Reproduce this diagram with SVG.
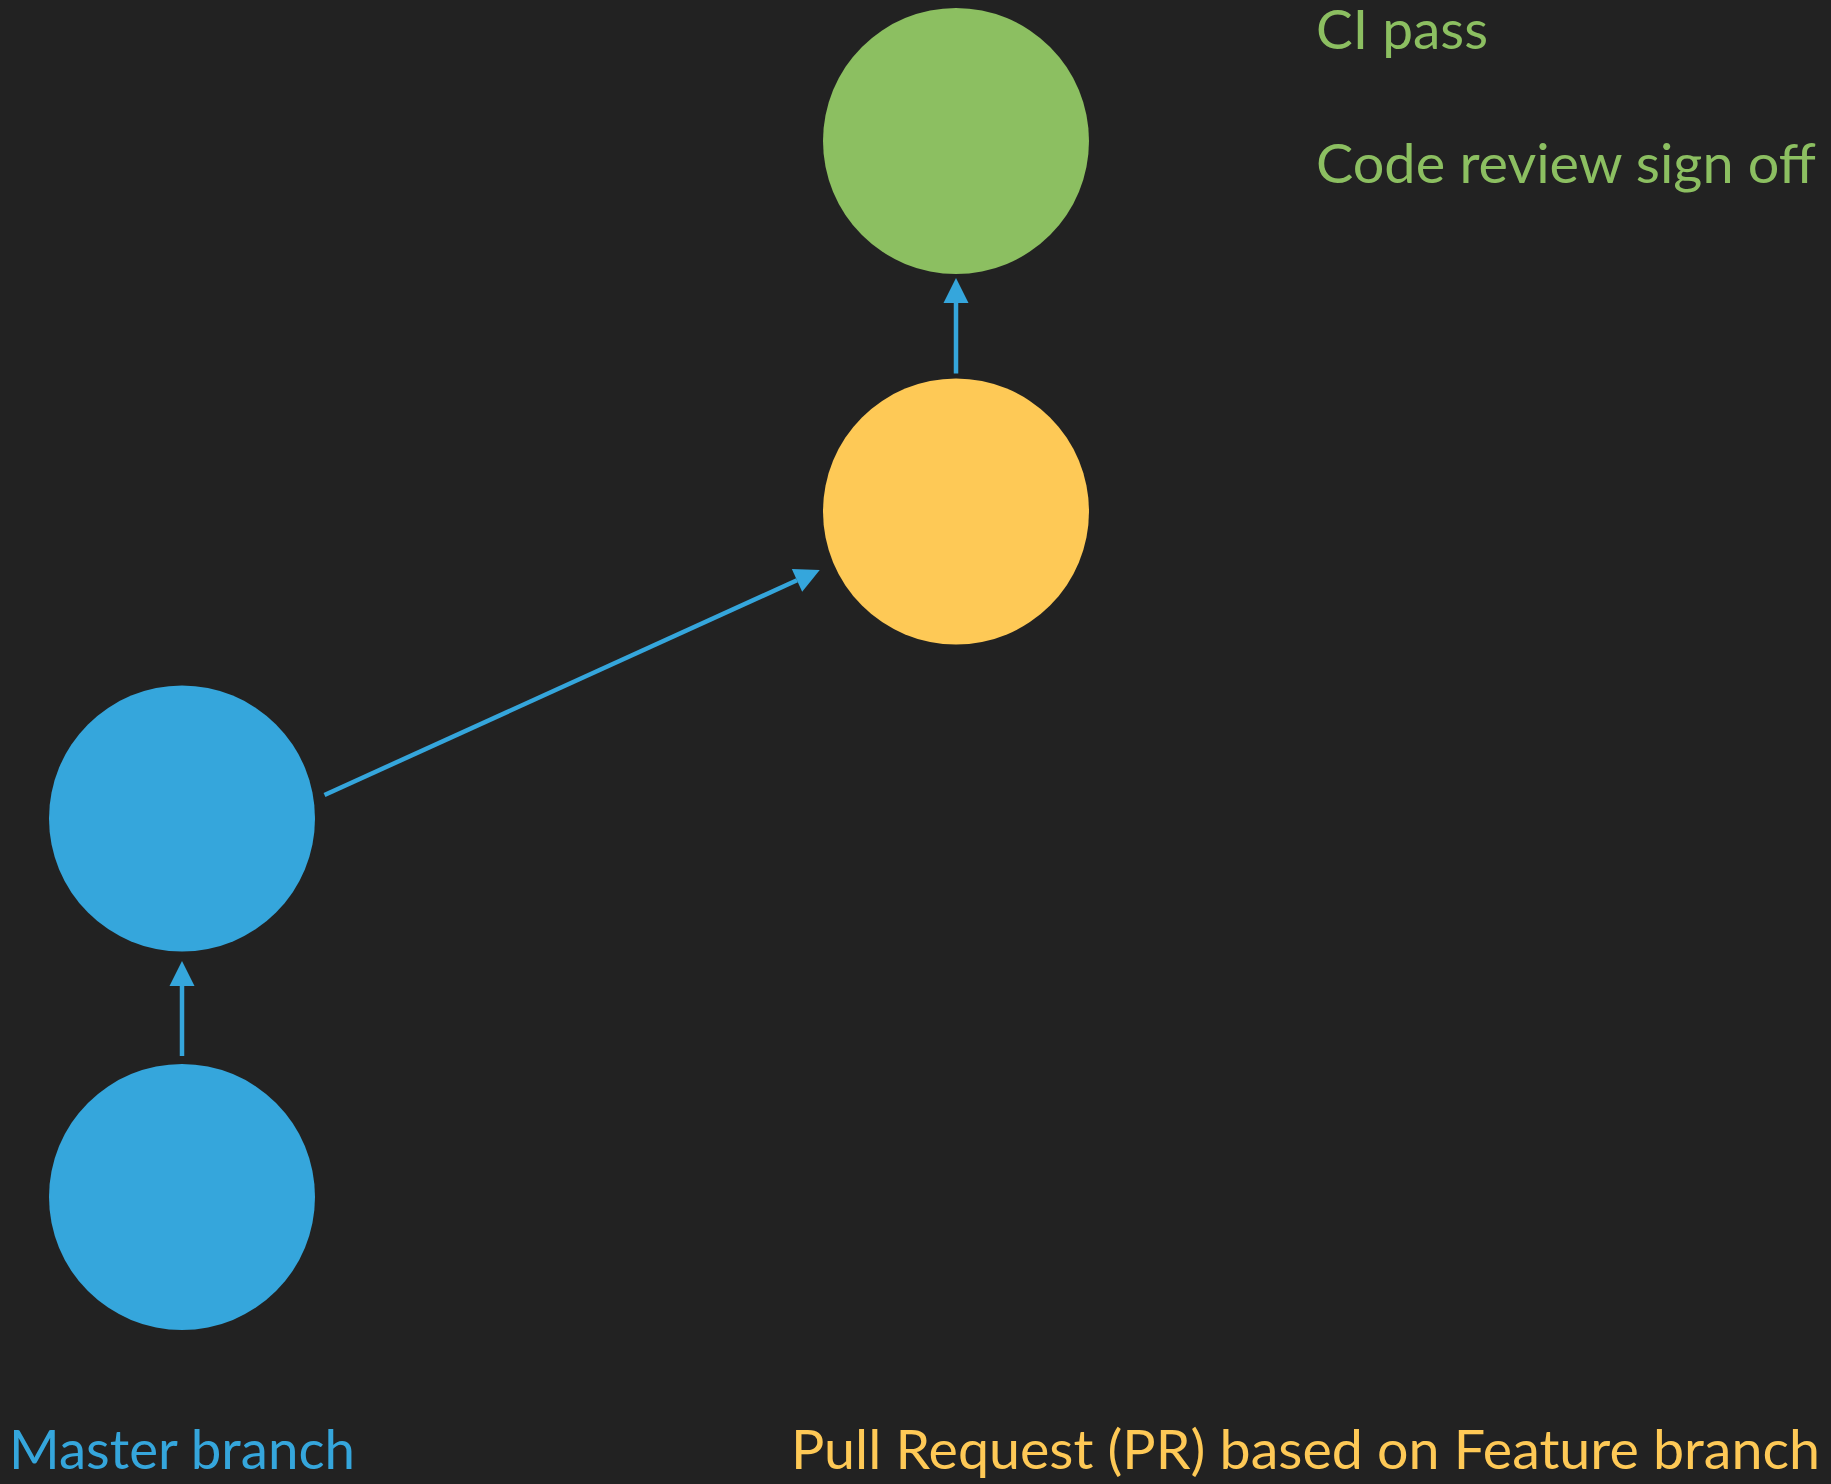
<svg xmlns="http://www.w3.org/2000/svg" width="1831" height="1484" viewBox="0 0 1831 1484">
<style>
.lbl{font-family:"Lato","Open Sans","Liberation Sans",sans-serif;font-size:54px}
.g{fill:#8cbf61}.y{fill:#fec956}.b{fill:#35a6dc}
.edge{stroke:#35a6dc;stroke-width:4.5;fill:none;marker-end:url(#ah)}
</style>
<defs>
<marker id="ah" markerUnits="userSpaceOnUse" markerWidth="26" markerHeight="26" refX="0" refY="12.5" orient="auto" viewBox="0 0 26 26" overflow="visible">
<path d="M0,0 L25,12.5 L0,25 z" fill="#35a6dc"/>
</marker>
</defs>
<rect width="1831" height="1484" fill="#222222"/>
<g id="node-ci"><circle cx="956" cy="141" r="133" class="g"/></g>
<g id="node-pr"><circle cx="956" cy="511.5" r="133" class="y"/></g>
<g id="node-master2"><circle cx="182" cy="818.5" r="133" class="b"/></g>
<g id="node-master1"><circle cx="182" cy="1197" r="133" class="b"/></g>
<g id="connectors">
<line class="edge" x1="182" y1="1056" x2="182" y2="986"/>
<line class="edge" x1="324.5" y1="795" x2="797" y2="580.3"/>
<line class="edge" x1="956" y1="373.5" x2="956" y2="303"/>
</g>
<g id="labels">
<text class="lbl g" x="1316" y="49" textLength="172" lengthAdjust="spacingAndGlyphs">CI pass</text>
<text class="lbl g" x="1316" y="183" textLength="500" lengthAdjust="spacingAndGlyphs">Code review sign off</text>
<text class="lbl b" x="9" y="1469" textLength="346" lengthAdjust="spacingAndGlyphs">Master branch</text>
<text class="lbl y" x="791" y="1469" textLength="1029" lengthAdjust="spacingAndGlyphs">Pull Request (PR) based on Feature branch</text>
</g>
</svg>
